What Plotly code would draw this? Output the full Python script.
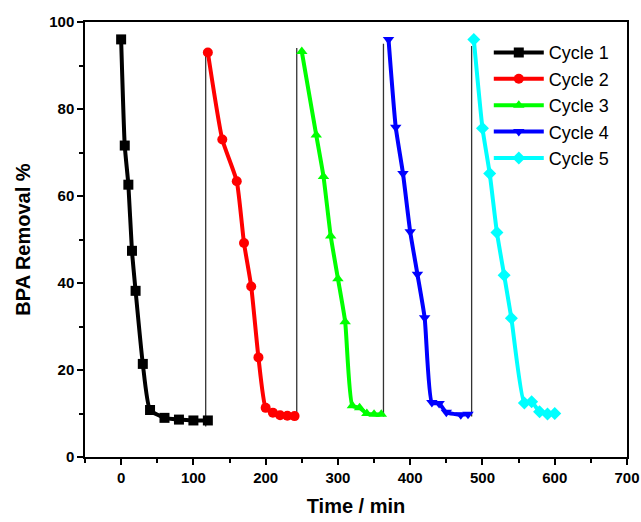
import plotly.graph_objects as go

# Removal of BPA over five consecutive reuse cycles
cycle1_t = [0, 5, 10, 15, 20, 30, 40, 60, 80, 100, 120]
cycle1_r = [96.0, 71.6, 62.6, 47.4, 38.2, 21.4, 10.8, 9.0, 8.6, 8.4, 8.4]

cycle2_t = [120, 140, 160, 170, 180, 190, 200, 210, 220, 230, 240]
cycle2_r = [93.0, 73.0, 63.4, 49.2, 39.2, 22.9, 11.3, 10.2, 9.6, 9.5, 9.4]

cycle3_t = [250, 270, 280, 290, 300, 310, 320, 330, 340, 350, 360]
cycle3_r = [93.2, 74.0, 64.5, 50.8, 41.0, 31.1, 11.8, 11.3, 10.0, 9.8, 9.8]

cycle4_t = [370, 380, 390, 400, 410, 420, 430, 440, 450, 470, 480]
cycle4_r = [96.0, 75.8, 65.2, 51.8, 42.0, 32.0, 12.5, 12.3, 10.3, 9.7, 9.8]

cycle5_t = [488, 500, 510, 520, 530, 540, 558, 568, 579, 590, 600]
cycle5_r = [96.0, 75.6, 65.2, 51.6, 41.8, 31.9, 12.4, 12.7, 10.4, 9.9, 10.0]

# Separators marking the start of each new cycle
sep_t = [117, 243, 363, 485]
sep_low = [7.0, 9.0, 9.3, 9.3]
sep_high = [93.0, 94.0, 95.0, 94.5]

x_ticks = [0, 100, 200, 300, 400, 500, 600, 700]
y_ticks = [0, 20, 40, 60, 80, 100]

series = [
    ("Cycle 1", cycle1_t, cycle1_r, "#000000", "square"),
    ("Cycle 2", cycle2_t, cycle2_r, "#ff0000", "circle"),
    ("Cycle 3", cycle3_t, cycle3_r, "#00ff00", "triangle-up"),
    ("Cycle 4", cycle4_t, cycle4_r, "#0000ff", "triangle-down"),
    ("Cycle 5", cycle5_t, cycle5_r, "#00ffff", "diamond"),
]

font_family = "Arial, Liberation Sans, sans-serif"

fig = go.Figure()

sx, sy = [], []
for t, lo, hi in zip(sep_t, sep_low, sep_high):
    sx += [t, t, None]
    sy += [lo, hi, None]
fig.add_trace(go.Scatter(
    x=sx, y=sy, mode="lines", showlegend=False, hoverinfo="skip",
    line=dict(color="#333333", width=1.3),
))

for name, t, r, color, symbol in series:
    fig.add_trace(go.Scatter(
        x=t, y=r, name=name, mode="lines+markers",
        line=dict(color=color, width=4, shape="spline", smoothing=0.5),
        marker=dict(symbol=symbol, size=10, color=color),
    ))

axis_common = dict(
    showgrid=False, zeroline=False, automargin=False,
    showline=True, linecolor="#000000", linewidth=1.5, mirror=True,
    ticks="outside", ticklen=6, tickwidth=1.5, tickcolor="#000000",
    tickfont=dict(family=font_family, size=15, color="#000000", weight="bold"),
)

fig.update_xaxes(
    range=[-50, 700], tickvals=x_ticks,
    minor=dict(ticks="outside", ticklen=4, tickwidth=1.5, tickcolor="#000000", dtick=50, tick0=-50),
    title=dict(text="Time / min", standoff=14,
               font=dict(family=font_family, size=20, color="#000000", weight="bold")),
    **axis_common,
)
fig.update_yaxes(
    range=[0, 100], tickvals=y_ticks,
    minor=dict(ticks="outside", ticklen=4, tickwidth=1.5, tickcolor="#000000", dtick=10),
    title=dict(text="BPA Removal %", standoff=13,
               font=dict(family=font_family, size=20, color="#000000", weight="bold")),
    **axis_common,
)

fig.update_layout(
    width=641, height=522,
    margin=dict(l=85, r=14, t=22, b=65),
    paper_bgcolor="#ffffff", plot_bgcolor="#ffffff",
    showlegend=True,
    legend=dict(
        x=0.745, y=0.972, xanchor="left", yanchor="top",
        bgcolor="rgba(0,0,0,0)", borderwidth=0,
        font=dict(family=font_family, size=18, color="#000000"),
        itemwidth=50, tracegroupgap=0,
    ),
)

fig.write_html("out.html")
